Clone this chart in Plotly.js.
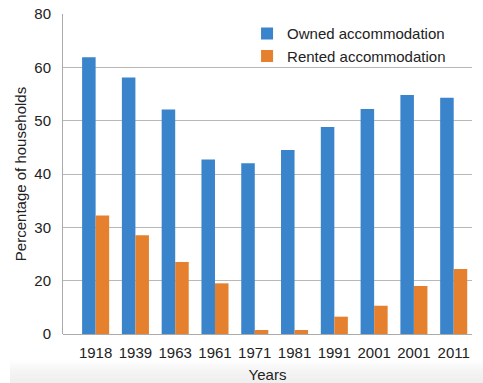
<!DOCTYPE html>
<html>
<head>
<meta charset="utf-8">
<script src="https://cdn.plot.ly/plotly-3.0.1.min.js"></script>
<style>
html,body{margin:0;padding:0;width:483px;height:383px;overflow:hidden;background:#fff;}
#bg{position:absolute;left:10px;top:360px;width:473px;height:23px;background:linear-gradient(to bottom,#ffffff 0%,#f5f5f5 45%,#eeeeee 100%);}
#chart{position:absolute;left:0;top:0;width:483px;height:383px;}
</style>
</head>
<body>
<div id="bg"></div>
<div id="chart"></div>
<script>
// Data
const years = ["1918","1939","1963","1961","1971","1981","1991","2001","2001","2011"];
const owned = [63.8, 58.1, 52.1, 42.7, 42.0, 44.5, 48.8, 52.2, 54.8, 54.3];
const rented = [32.2, 28.5, 23.5, 19.0, 1.5, 1.5, 6.5, 10.6, 18.0, 22.2];
// The reference's y-axis labels sit at equal spacing
const yTickLabels = [0, 20, 30, 40, 50, 60, 80];

// Piecewise-linear scale matching the reference's unevenly labelled axis
function toAxis(v) {
  for (let i = 0; i < yTickLabels.length - 1; i++) {
    const a = yTickLabels[i], b = yTickLabels[i + 1];
    if (v <= b) return i + (v - a) / (b - a);
  }
  return yTickLabels.length - 1;
}
const xPos = years.map((_, i) => i);

const font = "Liberation Sans, Arial, sans-serif";
const traces = [
  {type: "bar", name: "Owned accommodation", x: xPos, y: owned.map(toAxis),
   customdata: owned, hovertemplate: "%{customdata}<extra></extra>",
   marker: {color: "#3a84cc", line: {width: 0}}},
  {type: "bar", name: "Rented accommodation", x: xPos, y: rented.map(toAxis),
   customdata: rented, hovertemplate: "%{customdata}<extra></extra>",
   marker: {color: "#e5802f", line: {width: 0}}}
];

const layout = {
  width: 483, height: 383,
  margin: {l: 63, r: 11, t: 14, b: 49},
  paper_bgcolor: "rgba(0,0,0,0)",
  plot_bgcolor: "#ffffff",
  barmode: "group",
  bargap: 0.32,
  bargroupgap: 0,
  font: {family: font, size: 15, color: "#222"},
  showlegend: true,
  legend: {x: 0.45, y: 0.99, xanchor: "left", yanchor: "top",
           bgcolor: "rgba(255,255,255,0)", font: {size: 15, color: "#222"},
           itemwidth: 30, tracegroupgap: 0},
  xaxis: {
    range: [-0.82, 9.46],
    tickvals: xPos, ticktext: years,
    showgrid: false, zeroline: false, showline: false,
    ticks: "outside", ticklen: 5, tickcolor: "rgba(0,0,0,0)",
    tickfont: {size: 15, color: "#222"},
    title: {text: "Years", font: {size: 15, color: "#222"}, standoff: 11}
  },
  yaxis: {
    range: [0, 6],
    tickvals: yTickLabels.map((_, i) => i), ticktext: yTickLabels.map(String),
    showgrid: true, gridcolor: "#b8b8b8", gridwidth: 1,
    zeroline: true, zerolinecolor: "#aaaaaa", zerolinewidth: 1,
    showline: true, linecolor: "#aaaaaa", linewidth: 1,
    ticks: "outside", ticklen: 8, tickcolor: "rgba(0,0,0,0)",
    tickfont: {size: 15, color: "#222"},
    title: {text: "Percentage of households", font: {size: 15, color: "#222"}, standoff: 4}
  }
};

Plotly.newPlot("chart", traces, layout, {staticPlot: true, displayModeBar: false});
</script>
</body>
</html>
